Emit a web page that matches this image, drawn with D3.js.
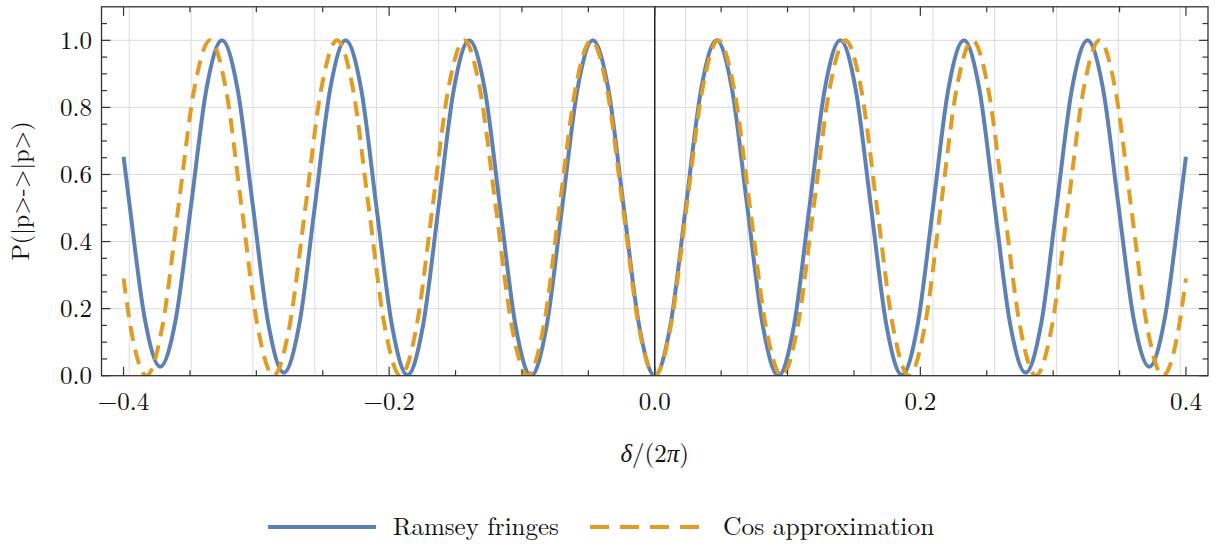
<!DOCTYPE html>
<html>
<head>
<meta charset="utf-8">
<script src="https://cdn.jsdelivr.net/npm/d3@7"></script>
<style>
  body { margin: 0; background: #fff; }
  svg { display: block; }
  text { font-family: "Latin Modern Roman", "CMU Serif", "Liberation Serif", serif; fill: #111; }
</style>
</head>
<body>
<svg width="1217" height="547"></svg>
<script>
// Ramsey fringes (solid blue) sampled along delta/(2pi)
var ramseyX = [-0.4, -0.3957, -0.3841, -0.3724, -0.3608, -0.3491, -0.3375, -0.3259, -0.3142, -0.3026,
  -0.2910, -0.2793, -0.2677, -0.2560, -0.2444, -0.2328, -0.2211, -0.2095, -0.1978, -0.1862,
  -0.1746, -0.1629, -0.1513, -0.1397, -0.1280, -0.1164, -0.1047, -0.0931, -0.0815, -0.0698,
  -0.0582, -0.0466, -0.0349, -0.0233, -0.0116, 0,
  0.0116, 0.0233, 0.0349, 0.0466, 0.0582, 0.0698, 0.0815, 0.0931, 0.1047, 0.1164,
  0.1280, 0.1397, 0.1513, 0.1629, 0.1746, 0.1862, 0.1978, 0.2095, 0.2211, 0.2328,
  0.2444, 0.2560, 0.2677, 0.2793, 0.2910, 0.3026, 0.3142, 0.3259, 0.3375, 0.3491,
  0.3608, 0.3724, 0.3841, 0.3957, 0.4];
var ramseyY = [0.653, 0.517, 0.172, 0.027, 0.166, 0.510, 0.857, 1, 0.856, 0.506,
  0.155, 0.009, 0.152, 0.503, 0.855, 1, 0.855, 0.501, 0.148, 0.002,
  0.147, 0.5, 0.854, 1, 0.854, 0.5, 0.146, 0, 0.146, 0.5,
  0.854, 1, 0.854, 0.5, 0.146, 0,
  0.146, 0.5, 0.854, 1, 0.854, 0.5, 0.146, 0, 0.146, 0.5,
  0.854, 1, 0.854, 0.5, 0.147, 0.002, 0.148, 0.501, 0.855, 1,
  0.855, 0.503, 0.152, 0.009, 0.155, 0.506, 0.856, 1, 0.857, 0.510,
  0.166, 0.027, 0.172, 0.517, 0.653];

// Cos approximation (dashed orange)
var cosX = [-0.4, -0.3947, -0.3827, -0.3708, -0.3588, -0.3468, -0.3349, -0.3229, -0.3110, -0.2990,
  -0.2870, -0.2751, -0.2631, -0.2512, -0.2392, -0.2272, -0.2153, -0.2033, -0.1914, -0.1794,
  -0.1674, -0.1555, -0.1435, -0.1316, -0.1196, -0.1076, -0.0957, -0.0837, -0.0718, -0.0598,
  -0.0478, -0.0359, -0.0239, -0.0120, 0,
  0.0120, 0.0239, 0.0359, 0.0478, 0.0598, 0.0718, 0.0837, 0.0957, 0.1076, 0.1196,
  0.1316, 0.1435, 0.1555, 0.1674, 0.1794, 0.1914, 0.2033, 0.2153, 0.2272, 0.2392,
  0.2512, 0.2631, 0.2751, 0.2870, 0.2990, 0.3110, 0.3229, 0.3349, 0.3468, 0.3588,
  0.3708, 0.3827, 0.3947, 0.4];
var cosY = [0.29, 0.146, 0, 0.146, 0.5, 0.854, 1, 0.854, 0.5, 0.146,
  0, 0.146, 0.5, 0.854, 1, 0.854, 0.5, 0.146, 0, 0.146,
  0.5, 0.854, 1, 0.854, 0.5, 0.146, 0, 0.146, 0.5, 0.854,
  1, 0.854, 0.5, 0.146, 0,
  0.146, 0.5, 0.854, 1, 0.854, 0.5, 0.146, 0, 0.146, 0.5,
  0.854, 1, 0.854, 0.5, 0.146, 0, 0.146, 0.5, 0.854, 1,
  0.854, 0.5, 0.146, 0, 0.146, 0.5, 0.854, 1, 0.854, 0.5,
  0.146, 0, 0.146, 0.29];

var xMajor = [-0.4, -0.2, 0, 0.2, 0.4];
var xMinor = [-0.35, -0.3, -0.25, -0.15, -0.1, -0.05, 0.05, 0.1, 0.15, 0.25, 0.3, 0.35];
var xLabels = ["\u22120.4", "\u22120.2", "0.0", "0.2", "0.4"];
var yMajor = [0, 0.2, 0.4, 0.6, 0.8, 1.0];
var yMinor = [0.05, 0.1, 0.15, 0.25, 0.3, 0.35, 0.45, 0.5, 0.55, 0.65, 0.7, 0.75, 0.85, 0.9, 0.95, 1.05];
var yLabels = ["0.0", "0.2", "0.4", "0.6", "0.8", "1.0"];
var xGrid = [-0.3957, -0.3491, -0.3026, -0.2560, -0.2095, -0.1629, -0.1164, -0.0698, -0.0233,
  0.0233, 0.0698, 0.1164, 0.1629, 0.2095, 0.2560, 0.3026, 0.3491, 0.3957];
var yGrid = [0.2, 0.4, 0.6, 0.8, 1.0];

var blue = "#5e81b5", orange = "#e19c24";

var svg = d3.select("svg");
var pLeft = 101.5, pRight = 1208, pTop = 6.8, pBottom = 375.7;

var x = d3.scaleLinear().domain([-0.4166, 0.4166]).range([pLeft, pRight]);
var y = d3.scaleLinear().domain([0, 1.1]).range([pBottom, pTop]);

svg.append("defs").append("clipPath").attr("id", "plotclip")
  .append("rect")
  .attr("x", pLeft).attr("y", pTop)
  .attr("width", pRight - pLeft).attr("height", pBottom - pTop);

// grid
svg.append("g").selectAll("line").data(xGrid).enter().append("line")
  .attr("x1", function(d) { return x(d); }).attr("x2", function(d) { return x(d); })
  .attr("y1", pTop).attr("y2", pBottom)
  .attr("stroke", "#dcdcdc").attr("stroke-width", 1);
svg.append("g").selectAll("line").data(yGrid).enter().append("line")
  .attr("x1", pLeft).attr("x2", pRight)
  .attr("y1", function(d) { return y(d); }).attr("y2", function(d) { return y(d); })
  .attr("stroke", "#dcdcdc").attr("stroke-width", 1);

// vertical axis at zero
svg.append("line")
  .attr("x1", x(0)).attr("x2", x(0)).attr("y1", pTop).attr("y2", pBottom)
  .attr("stroke", "#222").attr("stroke-width", 1.5);

var line = d3.line()
  .x(function(d) { return x(d[0]); })
  .y(function(d) { return y(d[1]); })
  .curve(d3.curveMonotoneX);

var plot = svg.append("g").attr("clip-path", "url(#plotclip)");

plot.append("path")
  .datum(d3.zip(ramseyX, ramseyY))
  .attr("d", line)
  .attr("fill", "none").attr("stroke", blue).attr("stroke-width", 4);

plot.append("path")
  .datum(d3.zip(cosX, cosY))
  .attr("d", line)
  .attr("fill", "none").attr("stroke", orange).attr("stroke-width", 4)
  .attr("stroke-dasharray", "15,9");

// frame
svg.append("rect")
  .attr("x", pLeft).attr("y", pTop)
  .attr("width", pRight - pLeft).attr("height", pBottom - pTop)
  .attr("fill", "none").attr("stroke", "#333").attr("stroke-width", 1.3);

function xticks(vals, len) {
  var g = svg.append("g").attr("stroke", "#333").attr("stroke-width", 1.2);
  g.selectAll(".b").data(vals).enter().append("line")
    .attr("x1", function(d) { return x(d); }).attr("x2", function(d) { return x(d); })
    .attr("y1", pBottom).attr("y2", pBottom - len);
  g.selectAll(".t").data(vals).enter().append("line")
    .attr("x1", function(d) { return x(d); }).attr("x2", function(d) { return x(d); })
    .attr("y1", pTop).attr("y2", pTop + len);
}
function yticks(vals, len) {
  var g = svg.append("g").attr("stroke", "#333").attr("stroke-width", 1.2);
  g.selectAll(".l").data(vals).enter().append("line")
    .attr("x1", pLeft).attr("x2", pLeft + len)
    .attr("y1", function(d) { return y(d); }).attr("y2", function(d) { return y(d); });
  g.selectAll(".r").data(vals).enter().append("line")
    .attr("x1", pRight).attr("x2", pRight - len)
    .attr("y1", function(d) { return y(d); }).attr("y2", function(d) { return y(d); });
}
xticks(xMajor, 9);
xticks(xMinor, 5.5);
yticks(yMajor, 9);
yticks(yMinor, 5.5);

// tick labels
svg.append("g").selectAll("text").data(xMajor).enter().append("text")
  .attr("x", function(d) { return x(d); })
  .attr("y", 410)
  .attr("text-anchor", "middle")
  .style("font-size", "25px")
  .text(function(d, i) { return xLabels[i]; });

svg.append("g").selectAll("text").data(yMajor).enter().append("text")
  .attr("x", 92)
  .attr("y", function(d) { return y(d); })
  .attr("dy", "0.34em")
  .attr("text-anchor", "end")
  .style("font-size", "25px")
  .text(function(d, i) { return yLabels[i]; });

// axis titles
svg.append("text")
  .attr("transform", "translate(29,191) rotate(-90)")
  .attr("text-anchor", "middle")
  .style("font-size", "24px")
  .text("P(|p>->|p>)");

var xt = svg.append("text")
  .attr("x", x(0)).attr("y", 462)
  .attr("text-anchor", "middle")
  .style("font-size", "25px");
xt.append("tspan").style("font-style", "italic").text("\u03b4");
xt.append("tspan").text("/(2");
xt.append("tspan").style("font-style", "italic").text("\u03c0");
xt.append("tspan").text(")");

// legend
var legend = svg.append("g");
legend.append("line")
  .attr("x1", 268).attr("x2", 376).attr("y1", 527).attr("y2", 527)
  .attr("stroke", blue).attr("stroke-width", 4);
legend.append("text")
  .attr("x", 393).attr("y", 535)
  .style("font-size", "25px")
  .text("Ramsey fringes");
legend.append("line")
  .attr("x1", 590).attr("x2", 700).attr("y1", 527).attr("y2", 527)
  .attr("stroke", orange).attr("stroke-width", 4)
  .attr("stroke-dasharray", "19,11");
legend.append("text")
  .attr("x", 723).attr("y", 535)
  .style("font-size", "25.5px")
  .text("Cos approximation");
</script>
</body>
</html>
